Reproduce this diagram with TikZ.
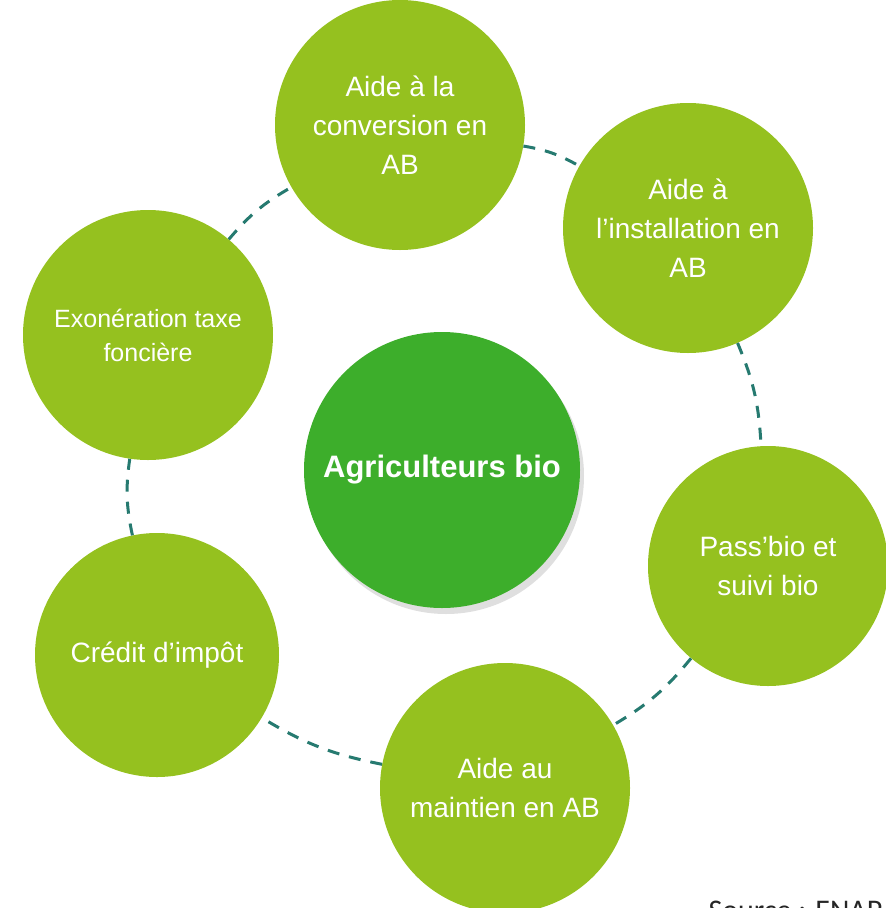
\documentclass[tikz,border=0pt]{standalone}
\usepackage{fontspec}
\setmainfont{Liberation Sans}
\newfontfamily\sourcefont{Carlito}
\usetikzlibrary{shadows}
\definecolor{vertclair}{RGB}{149,193,31}
\definecolor{vertfonce}{RGB}{61,174,43}
\definecolor{canard}{RGB}{38,122,112}
\newcommand{\tailleb}{250pt}
\tikzset{
  bulle/.style={circle,fill=vertclair,text=white,align=center,inner sep=0pt,
    minimum size=\tailleb,font=\fontsize{28}{39}\selectfont},
  anneau/.style={draw=canard,line width=3pt,dash pattern=on 12pt off 10pt}
}

\begin{document}
\begin{tikzpicture}[x=1pt,y=-1pt]
        \useasboundingbox (0,0) rectangle (886,908);
        \node[bulle] (conv) at (400,125) {Aide à la\\ conversion en\\ AB} ;
        \node[bulle] (inst) at (688,228) {Aide à\\ l’installation en\\ AB} ;
        \node[bulle,minimum size=240pt] (pass) at (768,566) {Pass’bio et\\ suivi bio} ;
        \node[bulle] (maint) at (505,788) {Aide au\\ maintien en AB} ;
        \node[bulle,minimum size=244pt] (credit) at (157,655) {Crédit d’impôt} ;
        \node[bulle,font=\fontsize{25}{34}\selectfont] (exo) at (148,335) {Exonération taxe\\ foncière} ;
        \draw[anneau] (conv) to[bend left=10] (inst);
        \draw[anneau] (inst) to[bend left=10] (pass);
        \draw[anneau] (pass) to[bend left=10] (maint);
        \draw[anneau] (maint) to[bend left=10] (credit);
        \draw[anneau] (credit) to[bend left=10] (exo);
        \draw[anneau] (exo) to[bend left=10] (conv);
        \node[circle,fill=vertfonce,text=white,minimum size=276pt,inner sep=0pt,
          font=\fontsize{31}{38}\selectfont\bfseries,
          drop shadow={shadow xshift=4pt,shadow yshift=-6pt,opacity=0.25}] (hub) at (442,470) {Agriculteurs bio} ;
        \node[anchor=base west,text=black!85,font=\sourcefont\fontsize{30}{36}\selectfont] (src) at (705,920) {Source : ENAP} ;
      \end{tikzpicture}
\end{document}
